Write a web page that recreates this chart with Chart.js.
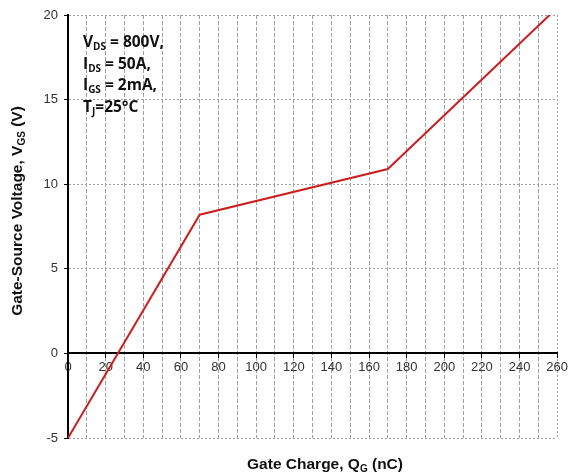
<!DOCTYPE html>
<html>
<head>
<meta charset="utf-8">
<script src="https://cdn.jsdelivr.net/npm/chart.js@4.4.0/dist/chart.umd.min.js"></script>
<style>
  html, body { margin: 0; padding: 0; background: #fff; }
  #wrap { width: 570px; height: 476px; }
</style>
</head>
<body>
<div id="wrap"><canvas id="gateChart"></canvas></div>
<script>
// gate charge curve (nC, V)
var chargeQG = [0, 70, 170, 256];
var voltageVGS = [-5, 8.2, 10.9, 20];
var xTicks = [0, 20, 40, 60, 80, 100, 120, 140, 160, 180, 200, 220, 240, 260];
var yTicks = [-5, 0, 5, 10, 15, 20];
var notes = [
    [['V', 0], ['DS', 1], [' = 800V,', 0]],
    [['I', 0], ['DS', 1], [' = 50A,', 0]],
    [['I', 0], ['GS', 1], [' = 2mA,', 0]],
    [['T', 0], ['J', 1], ['=25°C', 0]]
];
var xTitle = [['Gate Charge, Q', 0], ['G', 1], [' (nC)', 0]];
var yTitle = [['Gate-Source Voltage, V', 0], ['GS', 1], [' (V)', 0]];

var points = chargeQG.map(function (q, i) { return { x: q, y: voltageVGS[i] }; });

// draws a line of text with subscripts
function richText(ctx, parts, x, y, size, family, align) {
    var subSize = Math.round(size * 0.66);
    var total = 0;
    parts.forEach(function (p) {
        ctx.font = 'bold ' + (p[1] ? subSize : size) + 'px ' + family;
        total += ctx.measureText(p[0]).width;
    });
    var cx = align === 'center' ? x - total / 2 : x;
    ctx.textBaseline = 'middle';
    ctx.textAlign = 'left';
    parts.forEach(function (p) {
        ctx.font = 'bold ' + (p[1] ? subSize : size) + 'px ' + family;
        ctx.fillText(p[0], cx, p[1] ? y + size * 0.3 : y);
        cx += ctx.measureText(p[0]).width;
    });
}

var labelsPlugin = {
    id: 'labelsPlugin',
    afterDraw: function (chart) {
        var ctx = chart.ctx;
        ctx.save();
        ctx.fillStyle = '#111';
        for (var i = 0; i < notes.length; i++) {
            richText(ctx, notes[i], 83, 43 + i * 21.5, 15.5, '"Open Sans", sans-serif', 'left');
        }
        richText(ctx, xTitle, 325, 465, 15.5, '"Liberation Sans", Arial, sans-serif', 'center');
        ctx.translate(18, 211);
        ctx.rotate(-Math.PI / 2);
        richText(ctx, yTitle, 0, 0, 15.5, '"Liberation Sans", Arial, sans-serif', 'center');
        ctx.restore();
    }
};

var ctx = document.getElementById('gateChart');
var gateChart = new Chart(ctx, {
    type: 'line',
    data: {
        datasets: [{
            data: points,
            borderColor: '#cc1f1f',
            borderWidth: 2,
            pointRadius: 0,
            tension: 0,
            fill: false
        }]
    },
    options: {
        responsive: true,
        maintainAspectRatio: false,
        animation: false,
        layout: { padding: { left: 0, top: 15, right: 6, bottom: 38 } },
        plugins: { legend: { display: false }, tooltip: { enabled: false } },
        scales: {
            x: {
                type: 'linear',
                position: { y: 0 },
                min: 0,
                max: 260,
                afterFit: function (scale) { scale.height = 0; },
                ticks: {
                    stepSize: 10,
                    autoSkip: false,
                    maxRotation: 0,
                    padding: 2,
                    color: '#333',
                    font: { family: '"Liberation Sans", Arial, sans-serif', size: 13 },
                    callback: function (v) { return xTicks.indexOf(v) >= 0 ? String(v) : ''; }
                },
                grid: {
                    color: function (c) { return c.tick && c.tick.value === 0 ? 'rgba(0,0,0,0)' : '#a0a0a0'; },
                    tickColor: function (c) { return c.tick && xTicks.indexOf(c.tick.value) >= 0 ? '#000' : 'rgba(0,0,0,0)'; },
                    tickLength: 4,
                    lineWidth: 1
                },
                border: {
                    color: '#000',
                    width: 2,
                    dash: function (c) { return c.tick && c.tick.value === 260 ? [2, 2] : [4, 2]; }
                }
            },
            y: {
                type: 'linear',
                min: -5,
                max: 20,
                afterFit: function (scale) { scale.width = 68; },
                ticks: {
                    stepSize: 5,
                    padding: 6,
                    color: '#333',
                    font: { family: '"Liberation Sans", Arial, sans-serif', size: 13 },
                    callback: function (v) { return yTicks.indexOf(v) >= 0 ? String(v) : ''; }
                },
                grid: {
                    color: function (c) { return c.tick && c.tick.value === 0 ? 'rgba(0,0,0,0)' : '#a0a0a0'; },
                    tickColor: '#000',
                    tickLength: 4,
                    lineWidth: 1
                },
                border: {
                    color: '#000',
                    width: 2,
                    dash: [2, 2]
                }
            }
        }
    },
    plugins: [labelsPlugin]
});
</script>
</body>
</html>
